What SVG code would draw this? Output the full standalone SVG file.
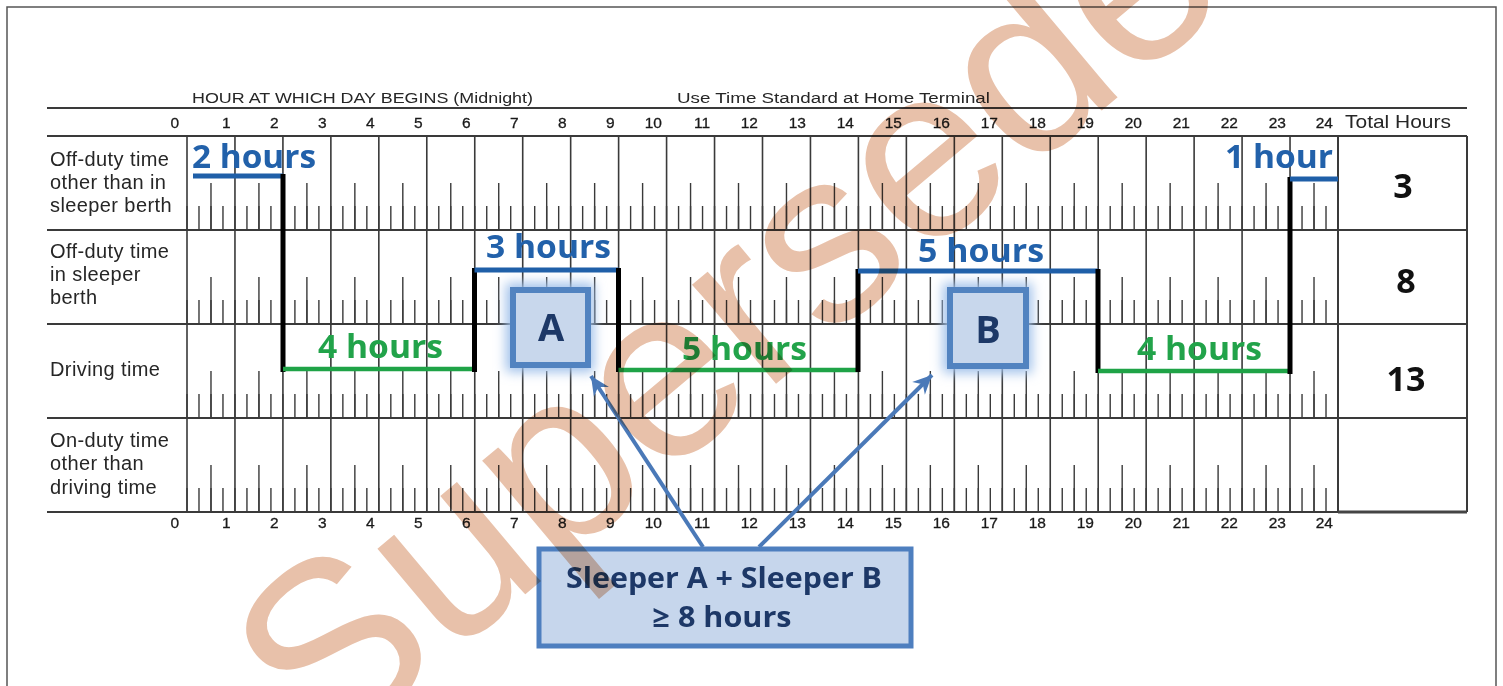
<svg xmlns="http://www.w3.org/2000/svg" width="1503" height="686" viewBox="0 0 1503 686">
<defs>
<style>
.lbl{font-family:"Liberation Sans",Arial,sans-serif;font-size:20px;fill:#262626;letter-spacing:0.4px}
.hdr{font-family:"Liberation Sans",Arial,sans-serif;font-size:15.5px;fill:#262626}
.num{font-family:"Liberation Sans",Arial,sans-serif;font-size:15.5px;fill:#1a1a1a;stroke:#1a1a1a;stroke-width:0.3;text-anchor:end}
.tot{font-family:"Open Sans","Liberation Sans",sans-serif;font-weight:bold;font-size:34px;fill:#111;text-anchor:middle}
.bl{font-family:"Open Sans","Liberation Sans",sans-serif;font-weight:bold;font-size:32px;fill:#2261aa}
.gr{font-family:"Open Sans","Liberation Sans",sans-serif;font-weight:bold;font-size:32px;fill:#22a34a}
.box{font-family:"Open Sans","Liberation Sans",sans-serif;font-weight:bold;fill:#1d3867;text-anchor:middle}
.hl{stroke:#3a3a3a;stroke-width:1.6;fill:none}
.grid{stroke:#3a3a3a;stroke-width:2;fill:none}
.st{stroke:#3a3a3a;stroke-width:24;fill:none;stroke-dasharray:1.4 10.5896}
.lt{stroke:#3a3a3a;stroke-width:47;fill:none;stroke-dasharray:1.4 46.558}
.blk{stroke:#000;stroke-width:5;fill:none}
.bln{stroke:#1f5fa8;stroke-width:5;fill:none}
.grn{stroke:#1fa347;stroke-width:4.5;fill:none}
.sq{fill:#c8d7ec;stroke:#5283c0;stroke-width:6}
.conn{stroke:#4a79b8;stroke-width:4;fill:none}
</style>
<filter id="glow" x="-40%" y="-40%" width="180%" height="180%">
<feGaussianBlur stdDeviation="6"/>
</filter>
<marker id="ah" viewBox="-20 -10 22 20" refX="0" refY="0" markerWidth="22" markerHeight="20" markerUnits="userSpaceOnUse" orient="auto">
<path d="M0,0 L-19,-9 L-13,0 L-19,9 Z" fill="#4a79b8"/>
</marker>
</defs>
<rect x="0" y="0" width="1503" height="686" fill="#fff"/>
<rect x="7" y="7" width="1489" height="720" fill="none" stroke="#555" stroke-width="1.5"/>

<g id="header">
<text class="hdr" x="192" y="103" textLength="341" lengthAdjust="spacingAndGlyphs">HOUR AT WHICH DAY BEGINS (Midnight)</text>
<text class="hdr" x="677" y="103" textLength="313" lengthAdjust="spacingAndGlyphs">Use Time Standard at Home Terminal</text>
<text x="1345" y="128" font-family="Liberation Sans, Arial, sans-serif" font-size="19" fill="#262626" textLength="106" lengthAdjust="spacingAndGlyphs">Total Hours</text>
</g>

<g id="grid">
<path class="grid" d="M47,108H1467 M47,136H1467 M47,230H1467 M47,324H1467 M47,418H1467 M47,512H1467 M1338,136V512 M1467,136V512"/>
<path class="hl" d="M187,136V512 M234.96,136V512 M282.92,136V512 M330.87,136V512 M378.83,136V512 M426.79,136V512 M474.75,136V512 M522.71,136V512 M570.66,136V512 M618.62,136V512 M666.58,136V512 M714.54,136V512 M762.5,136V512 M810.45,136V512 M858.41,136V512 M906.37,136V512 M954.33,136V512 M1002.29,136V512 M1050.24,136V512 M1098.2,136V512 M1146.16,136V512 M1194.12,136V512 M1242.08,136V512 M1290.03,136V512"/>
<line class="st" x1="186.3" y1="218" x2="1338" y2="218"/>
<line class="st" x1="186.3" y1="312" x2="1338" y2="312"/>
<line class="st" x1="186.3" y1="406" x2="1338" y2="406"/>
<line class="st" x1="186.3" y1="500" x2="1338" y2="500"/>
<line class="lt" x1="210.28" y1="206.5" x2="1338" y2="206.5"/>
<line class="lt" x1="210.28" y1="300.5" x2="1338" y2="300.5"/>
<line class="lt" x1="210.28" y1="394.5" x2="1338" y2="394.5"/>
<line class="lt" x1="210.28" y1="488.5" x2="1338" y2="488.5"/>
<path d="M1338,512H1467" stroke="#444" stroke-width="3"/>
</g>

<g id="hours-top">
<text class="num" x="179" y="128">0</text>
<text class="num" x="230.5" y="128">1</text>
<text class="num" x="278.5" y="128">2</text>
<text class="num" x="326.5" y="128">3</text>
<text class="num" x="374.5" y="128">4</text>
<text class="num" x="422.5" y="128">5</text>
<text class="num" x="470.5" y="128">6</text>
<text class="num" x="518.5" y="128">7</text>
<text class="num" x="566.5" y="128">8</text>
<text class="num" x="614.5" y="128">9</text>
<text class="num" x="662" y="128">10</text>
<text class="num" x="710" y="128">11</text>
<text class="num" x="758" y="128">12</text>
<text class="num" x="806" y="128">13</text>
<text class="num" x="854" y="128">14</text>
<text class="num" x="902" y="128">15</text>
<text class="num" x="950" y="128">16</text>
<text class="num" x="998" y="128">17</text>
<text class="num" x="1046" y="128">18</text>
<text class="num" x="1094" y="128">19</text>
<text class="num" x="1142" y="128">20</text>
<text class="num" x="1190" y="128">21</text>
<text class="num" x="1238" y="128">22</text>
<text class="num" x="1286" y="128">23</text>
<text class="num" x="1333" y="128">24</text>
</g>
<g id="hours-bottom">
<text class="num" x="179" y="528">0</text>
<text class="num" x="230.5" y="528">1</text>
<text class="num" x="278.5" y="528">2</text>
<text class="num" x="326.5" y="528">3</text>
<text class="num" x="374.5" y="528">4</text>
<text class="num" x="422.5" y="528">5</text>
<text class="num" x="470.5" y="528">6</text>
<text class="num" x="518.5" y="528">7</text>
<text class="num" x="566.5" y="528">8</text>
<text class="num" x="614.5" y="528">9</text>
<text class="num" x="662" y="528">10</text>
<text class="num" x="710" y="528">11</text>
<text class="num" x="758" y="528">12</text>
<text class="num" x="806" y="528">13</text>
<text class="num" x="854" y="528">14</text>
<text class="num" x="902" y="528">15</text>
<text class="num" x="950" y="528">16</text>
<text class="num" x="998" y="528">17</text>
<text class="num" x="1046" y="528">18</text>
<text class="num" x="1094" y="528">19</text>
<text class="num" x="1142" y="528">20</text>
<text class="num" x="1190" y="528">21</text>
<text class="num" x="1238" y="528">22</text>
<text class="num" x="1286" y="528">23</text>
<text class="num" x="1333" y="528">24</text>
</g>

<g id="row-labels">
<text class="lbl" x="50" y="166">Off-duty time</text>
<text class="lbl" x="50" y="189">other than in</text>
<text class="lbl" x="50" y="212">sleeper berth</text>
<text class="lbl" x="50" y="258">Off-duty time</text>
<text class="lbl" x="50" y="281">in sleeper</text>
<text class="lbl" x="50" y="304">berth</text>
<text class="lbl" x="50" y="376">Driving time</text>
<text class="lbl" x="50" y="447">On-duty time</text>
<text class="lbl" x="50" y="470">other than</text>
<text class="lbl" x="50" y="494">driving time</text>
</g>

<g id="totals">
<text class="tot" x="1403" y="198">3</text>
<text class="tot" x="1406" y="293">8</text>
<text class="tot" x="1406" y="391">13</text>
</g>

<g id="duty-graph">
<path class="bln" d="M193,176H283"/>
<path class="blk" d="M283,174V372"/>
<path class="grn" d="M283,369H474.5"/>
<path class="blk" d="M474.5,268V372"/>
<path class="bln" d="M474.5,270H618.5"/>
<path class="blk" d="M618.5,268V372"/>
<path class="grn" d="M618.5,370H858"/>
<path class="blk" d="M858,269V372"/>
<path class="bln" d="M858,271H1098"/>
<path class="blk" d="M1098,269V373"/>
<path class="grn" d="M1098,371H1290"/>
<path class="blk" d="M1290,177V374"/>
<path class="bln" d="M1290,179H1338"/>
</g>

<g id="duration-labels">
<text class="bl" x="192" y="168" textLength="124" lengthAdjust="spacingAndGlyphs">2 hours</text>
<text class="bl" x="1225" y="168" textLength="108" lengthAdjust="spacingAndGlyphs">1 hour</text>
<text class="bl" x="486" y="258" textLength="125" lengthAdjust="spacingAndGlyphs">3 hours</text>
<text class="bl" x="918" y="262" textLength="126" lengthAdjust="spacingAndGlyphs">5 hours</text>
<text class="gr" x="318" y="358" textLength="125" lengthAdjust="spacingAndGlyphs">4 hours</text>
<text class="gr" x="682" y="360" textLength="125" lengthAdjust="spacingAndGlyphs">5 hours</text>
<text class="gr" x="1137" y="360" textLength="125" lengthAdjust="spacingAndGlyphs">4 hours</text>
</g>

<g id="node-A">
<rect x="506" y="283" width="88" height="89" fill="#9fc0ea" filter="url(#glow)"/>
<rect class="sq" x="513" y="290" width="75" height="75"/>
<text class="box" x="551" y="341" font-size="38">A</text>
</g>
<g id="node-B">
<rect x="943" y="283" width="89" height="90" fill="#9fc0ea" filter="url(#glow)"/>
<rect class="sq" x="950" y="290" width="76" height="76"/>
<text class="box" x="988" y="343" font-size="38">B</text>
</g>

<g id="connectors">
<path class="conn" d="M703,547L591,376" marker-end="url(#ah)"/>
<path class="conn" d="M759,547L932,375" marker-end="url(#ah)"/>
</g>

<g id="node-sum">
<rect x="539" y="549" width="372" height="97" fill="#c6d6ec" stroke="#4e7fbf" stroke-width="5"/>
<text class="box" x="724" y="588" font-size="29" textLength="316" lengthAdjust="spacingAndGlyphs">Sleeper A + Sleeper B</text>
<text class="box" x="722" y="627" font-size="29" textLength="139" lengthAdjust="spacingAndGlyphs">≥ 8 hours</text>
</g>

<g id="watermark" style="mix-blend-mode:multiply">
<text x="323" y="764" transform="rotate(-40 323 764)" font-family="Liberation Sans, Arial, sans-serif" font-size="246" fill="#e8c1aa">Superseded</text>
</g>
</svg>
